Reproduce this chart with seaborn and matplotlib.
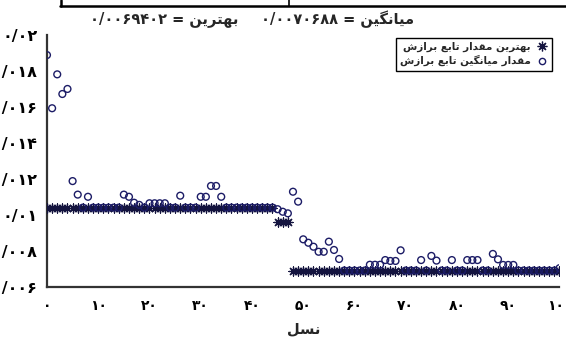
import numpy as np
import matplotlib
matplotlib.use('Agg')
import matplotlib.pyplot as plt
from matplotlib.lines import Line2D
import seaborn as sns

# generations 0..100
generations = list(range(101))

# best fitness per generation
best_fit = [0.01043] * 45 + [0.00965] * 3 + [0.00694] * 53

# mean fitness per generation
mean_fit = [
  0.01889, 0.01594, 0.01782, 0.01673, 0.01701, 0.01190, 0.01115, 0.01043, 0.01103, 0.01043,  # 0-9
  0.01043, 0.01043, 0.01043, 0.01043, 0.01043, 0.01115, 0.01103, 0.01070, 0.01058, 0.01043,  # 10-19
  0.01067, 0.01067, 0.01067, 0.01067, 0.01043, 0.01043, 0.01109, 0.01043, 0.01043, 0.01043,  # 20-29
  0.01103, 0.01103, 0.01163, 0.01163, 0.01103, 0.01043, 0.01043, 0.01043, 0.01043, 0.01043,  # 30-39
  0.01043, 0.01043, 0.01043, 0.01043, 0.01043, 0.01034, 0.01020, 0.01011, 0.01131, 0.01076,  # 40-49
  0.00867, 0.00848, 0.00826, 0.00798, 0.00798, 0.00854, 0.00808, 0.00758, 0.00694, 0.00694,  # 50-59
  0.00694, 0.00694, 0.00694, 0.00726, 0.00726, 0.00726, 0.00752, 0.00747, 0.00747, 0.00806,  # 60-69
  0.00694, 0.00694, 0.00694, 0.00752, 0.00694, 0.00775, 0.00749, 0.00694, 0.00694, 0.00752,  # 70-79
  0.00694, 0.00694, 0.00752, 0.00752, 0.00752, 0.00694, 0.00694, 0.00786, 0.00756, 0.00725,  # 80-89
  0.00725, 0.00725, 0.00694, 0.00694, 0.00694, 0.00694, 0.00694, 0.00694, 0.00694, 0.00694,  # 90-99
  0.00707,                                                                                    # 100
]

x_ticks = [0, 10, 20, 30, 40, 50, 60, 70, 80, 90, 100]
y_ticks = [0.006, 0.008, 0.01, 0.012, 0.014, 0.016, 0.018, 0.02]

best_title_value = '0/0069402'
mean_title_value = '0/0070688'
best_label = 'بهترین مقدار تابع برازش'
mean_label = 'مقدار میانگین تابع برازش'
x_label = 'نسل'
best_word = 'بهترین'
mean_word = 'میانگین'

# --- minimal arabic shaping (matplotlib has no bidi / shaping) ---
# char: (isolated, final, initial, medial) ; right-joining letters only have 2 forms
FORMS = {
  'ا': ('\uFE8D', '\uFE8E'),
  'د': ('\uFEA9', '\uFEAA'),
  'ر': ('\uFEAD', '\uFEAE'),
  'ز': ('\uFEAF', '\uFEB0'),
  'ب': ('\uFE8F', '\uFE90', '\uFE91', '\uFE92'),
  'ت': ('\uFE95', '\uFE96', '\uFE97', '\uFE98'),
  'س': ('\uFEB1', '\uFEB2', '\uFEB3', '\uFEB4'),
  'ش': ('\uFEB5', '\uFEB6', '\uFEB7', '\uFEB8'),
  'ع': ('\uFEC9', '\uFECA', '\uFECB', '\uFECC'),
  'ق': ('\uFED5', '\uFED6', '\uFED7', '\uFED8'),
  'ل': ('\uFEDD', '\uFEDE', '\uFEDF', '\uFEE0'),
  'م': ('\uFEE1', '\uFEE2', '\uFEE3', '\uFEE4'),
  'ن': ('\uFEE5', '\uFEE6', '\uFEE7', '\uFEE8'),
  'ه': ('\uFEE9', '\uFEEA', '\uFEEB', '\uFEEC'),
  'ی': ('\uFBFC', '\uFBFD', '\uFBFE', '\uFBFF'),
  'گ': ('\uFB92', '\uFB93', '\uFB94', '\uFB95'),
}
FA_DIGITS = str.maketrans('0123456789.', '۰۱۲۳۴۵۶۷۸۹/')


def rtl(s:str) -> str:
  out = []
  for i, c in enumerate(s):
    if c not in FORMS:
      out.append(c)
      continue
    prev = s[i - 1] if i > 0 else None
    nxt = s[i + 1] if i + 1 < len(s) else None
    join_prev = prev in FORMS and len(FORMS[prev]) == 4
    join_next = len(FORMS[c]) == 4 and nxt in FORMS
    f = FORMS[c]
    if join_prev and join_next: out.append(f[3])
    elif join_next: out.append(f[2])
    elif join_prev: out.append(f[1])
    else: out.append(f[0])
  return ''.join(out)[::-1]


def fa_num(v) -> str:
  return str(v).translate(FA_DIGITS)


sns.set_style('white')
plt.rcParams['font.family'] = ['DejaVu Sans']
plt.rcParams['font.weight'] = 'bold'

navy = '#1c1c66'
star_c = '#14143f'

fig = plt.figure(figsize=(5.66, 3.37), dpi=100)
ax = fig.add_axes([0.083, 0.147, 0.9055, 0.749])

sns.scatterplot(x=generations, y=best_fit, marker=(8, 2, 0), s=42, color=star_c,
                linewidth=0.9, ax=ax, zorder=3)
sns.scatterplot(x=generations, y=mean_fit, marker='o', s=24, facecolor='none',
                edgecolor=navy, linewidth=1.0, ax=ax, zorder=4)

ax.set_xlim(0, 100)
ax.set_ylim(0.006, 0.02)
ax.set_xticks(x_ticks)
ax.set_yticks(y_ticks)
ax.set_xticklabels([fa_num(t) for t in x_ticks], fontsize=10, fontweight='bold')
ax.set_yticklabels([fa_num(f'{t:g}') for t in y_ticks], fontsize=11.5, fontweight='bold')
ax.tick_params(direction='in', length=4, width=1.2, colors='black')
ax.tick_params(axis='y', pad=7)
ax.tick_params(axis='x', pad=8)
for side in ['top', 'right']:
  ax.spines[side].set_visible(False)
for side in ['left', 'bottom']:
  ax.spines[side].set_color('#333333')
  ax.spines[side].set_linewidth(1.6)
ax.set_xlabel(rtl(x_label), fontsize=10.5, fontweight='bold', labelpad=6)

handles = [
  Line2D([], [], ls='none', marker=(8, 2, 0), ms=7, mew=0.9, color=star_c),
  Line2D([], [], ls='none', marker='o', ms=4.5, mew=1.0, mfc='none', mec=navy),
]
ax.legend(handles, [rtl(best_label), rtl(mean_label)], loc='upper right',
          bbox_to_anchor=(0.985, 0.99), markerfirst=False, frameon=True, fancybox=False,
          edgecolor='black', framealpha=1, fontsize=7.5, borderpad=0.4,
          handlelength=1.0, handletextpad=0.6, labelspacing=0.3, borderaxespad=0)

fig.text(0.290, 0.944, fa_num(best_title_value) + ' = ' + rtl(best_word),
         ha='center', va='center', fontsize=10.5, fontweight='bold')
fig.text(0.596, 0.944, fa_num(mean_title_value) + ' = ' + rtl(mean_word),
         ha='center', va='center', fontsize=10.5, fontweight='bold')

# fragment of the table border above the chart
fig.add_artist(Line2D([60 / 566, 1], [1 - 5.5 / 337] * 2, transform=fig.transFigure, color='black', lw=1.8))
fig.add_artist(Line2D([61 / 566] * 2, [1, 1 - 5.5 / 337], transform=fig.transFigure, color='black', lw=1.8))
fig.add_artist(Line2D([289 / 566] * 2, [1, 1 - 5.5 / 337], transform=fig.transFigure, color='black', lw=1.2))

fig.savefig('out.png', dpi=100)
